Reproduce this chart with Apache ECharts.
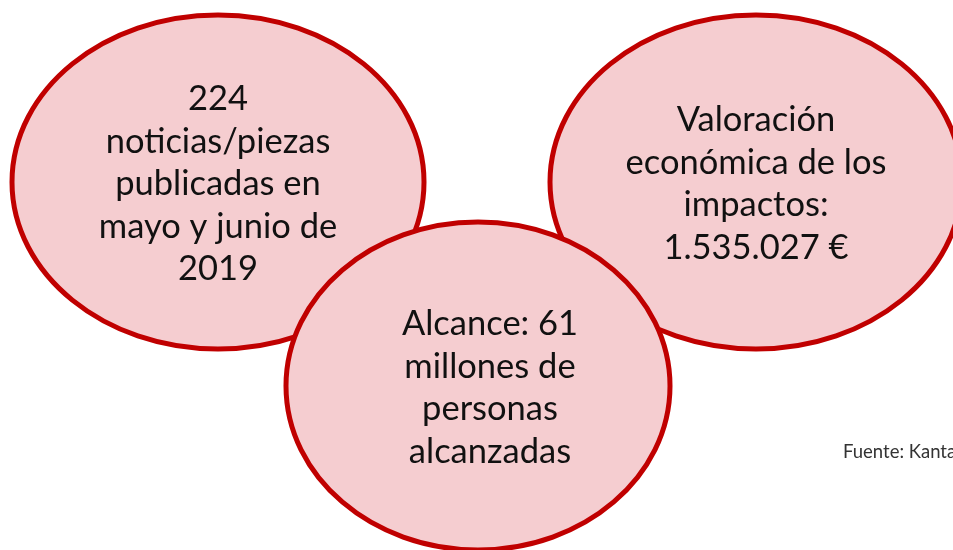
<!DOCTYPE html>
<html>
<head>
<meta charset="utf-8">
<script src="https://cdn.jsdelivr.net/npm/echarts@6/dist/echarts.min.js"></script>
<style>
  html, body { margin: 0; padding: 0; background: #fff; }
  #chart { width: 953px; height: 550px; }
</style>
</head>
<body>
<div id="chart"></div>
<script>
// textos de cada burbuja (izquierda, derecha, abajo)
const bubbleTexts = [
  '224\nnoticias/piezas\npublicadas en\nmayo y junio de\n2019',
  'Valoración\neconómica de los\nimpactos:\n1.535.027 €',
  'Alcance: 61\nmillones de\npersonas\nalcanzadas'
]
const bubbleX = [218, 756, 478]
const bubbleY = [182, 182, 386]
const source = 'Fuente: Kantar Media'

const myChart = echarts.init(document.getElementById('chart'))

myChart.setOption({
  animation: false,
  grid: { left: 0, right: 0, top: 0, bottom: 0 },
  xAxis: { type: 'value', min: 0, max: 953, show: false },
  yAxis: { type: 'value', min: 0, max: 550, inverse: true, show: false },
  series: [
    {
      type: 'custom',
      data: bubbleTexts.map((t, i) => [bubbleX[i], bubbleY[i], t]),
      renderItem(params, api) {
        const p = api.coord([api.value(0), api.value(1)])
        const i = params.dataIndex
        const r = i === 2 ? [192, 164] : [206, 167]
        // el texto de la burbuja de abajo va algo desplazado a la derecha
        const dx = i === 2 ? 12 : 0
        return {
          type: 'group',
          children: [
            {
              type: 'ellipse',
              shape: { cx: p[0], cy: p[1], rx: r[0], ry: r[1] },
              style: { fill: '#f5cdd0', stroke: '#c00000', lineWidth: 5 }
            },
            {
              type: 'text',
              x: p[0] + dx,
              y: p[1] + 2,
              style: {
                text: bubbleTexts[i],
                fill: '#111',
                font: '34.5px Lato',
                lineHeight: 42.5,
                align: 'center',
                verticalAlign: 'middle'
              }
            }
          ]
        }
      }
    }
  ],
  graphic: [
    {
      type: 'text',
      left: 843,
      top: 443,
      style: { text: source, fill: '#333', font: '18.5px Lato' }
    }
  ]
})
</script>
</body>
</html>
